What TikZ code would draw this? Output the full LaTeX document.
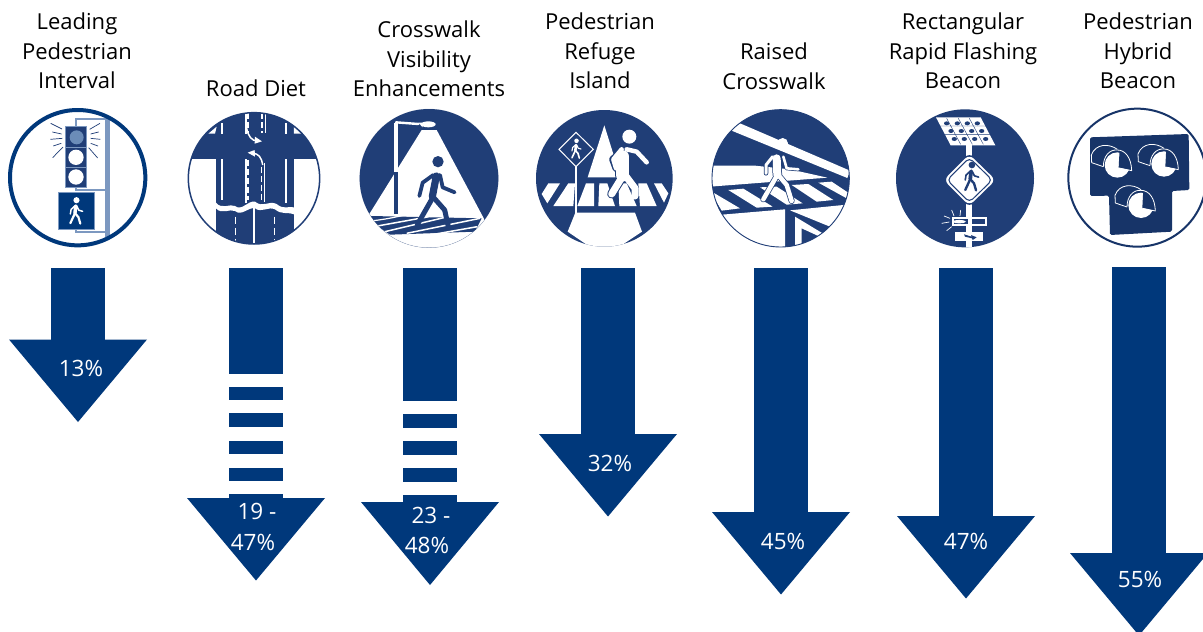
\documentclass[tikz,border=0pt]{standalone}
\usepackage{fontspec}
\setmainfont{Open Sans}
\definecolor{arrowblue}{HTML}{00387B}
\definecolor{iconblue}{HTML}{203E77}
\definecolor{hybridblue}{HTML}{173468}
\definecolor{poleblue}{HTML}{7C98C0}
\definecolor{lampblue}{HTML}{6B8CB8}
\tikzset{
  title/.style={align=center,font=\fontsize{22}{29.5}\selectfont,text=black,inner sep=0pt},
  pct/.style={font=\fontsize{22.5}{26}\selectfont,text=white,inner sep=0pt},
  limb/.style={line width=#1,line cap=round,line join=round},
  limb/.default=2.6pt
}
\newcommand{\downarrowshape}[3]{%
  \fill[arrowblue] ({#1-27},#2) rectangle ({#1+27},#3);
  \fill[arrowblue] ({#1-69},#3) -- ({#1+69},#3) -- (#1,{#3+82.5}) -- cycle;}
\newcommand{\stripe}[3]{\fill[arrowblue] ({#1-27},#2) rectangle ({#1+27},#3);}
% small walker: x, y (hip), scale, colour
\newcommand{\walkerfig}[4]{%
  \begin{scope}[shift={(#1,#2)},scale=#3]
    \fill[#4] (3,-36) circle[radius=8];
    \draw[#4,limb=#3*3pt] (1,-21) -- (-1,-2);
    \draw[#4,limb=#3*1.9pt] (-1,-2) -- (-13,24);
    \draw[#4,limb=#3*1.9pt] (-1,-2) -- (8,8) -- (13,25);
    \draw[#4,limb=#3*1.3pt] (0,-22) -- (-11,-12) -- (-13,0);
    \draw[#4,limb=#3*1.3pt] (3,-22) -- (9,-10) -- (19,-7);
  \end{scope}}
\newcommand{\hybridlamp}[2]{%
  \begin{scope}[shift={(#1,#2)}]
    \fill[white] (0,0) circle[radius=38];
    \fill[hybridblue] (4,8) -- (42,16) -- (42,-45) -- (7,-50) -- cycle;
    \draw[white,line width=.8pt,line join=round] (-42,5) -- (-77,-7) -- (-78,-30) .. controls (-65,-65) and (-25,-65) .. (0,-47);
    \draw[white,line width=.8pt,line join=round] (-42,5) .. controls (-42,-25) and (-25,-47) .. (0,-45) .. controls (25,-45) and (42,-20) .. (43,17) -- (5,9);
  \end{scope}}
\begin{document}
\begin{tikzpicture}[x=1pt,y=-1pt]
\useasboundingbox (0,0) rectangle (1203,632);
\clip (0,0) rectangle (1203,632);
\fill[white] (0,0) rectangle (1203,632);

% ---------- titles
\node[title] (t1) at (77,51) {Leading\\Pedestrian\\Interval};
\node[title] (t2) at (256,88) {Road Diet};
\node[title] (t3) at (429,59) {Crosswalk\\Visibility\\Enhancements};
\node[title] (t4) at (600,51) {Pedestrian\\Refuge\\Island};
\node[title] (t5) at (774,66) {Raised\\Crosswalk};
\node[title] (t6) at (963,51) {Rectangular\\Rapid Flashing\\Beacon};
\node[title] (t7) at (1138,51) {Pedestrian\\Hybrid\\Beacon};

% ---------- arrows
\downarrowshape{78}{268}{339.5}
\stripe{256}{268}{373.5}\stripe{256}{386.7}{400}\stripe{256}{413.3}{426.7}\stripe{256}{441}{454.3}\stripe{256}{467.7}{481}\stripe{256}{494}{498.5}
\fill[arrowblue] (187,498) -- (325,498) -- (256,580.5) -- cycle;
\stripe{430}{268}{401}\stripe{430}{414}{428}\stripe{430}{441}{455}\stripe{430}{468}{482}\stripe{430}{495}{502.5}
\fill[arrowblue] (361,502) -- (499,502) -- (430,585) -- cycle;
\downarrowshape{608}{268}{434}
\downarrowshape{781}{268}{512}
\downarrowshape{966}{268}{516}
\downarrowshape{1139}{267}{553}

\node[pct] (p1) at (81,368) {13\%};
\node[pct] (p2a) at (257,511) {19 -};
\node[pct] (p2b) at (253,542) {47\%};
\node[pct] (p3a) at (431,515) {23 -};
\node[pct] (p3b) at (427,545) {48\%};
\node[pct] (p4) at (610,463) {32\%};
\node[pct] (p5) at (783,541) {45\%};
\node[pct] (p6) at (966,541) {47\%};
\node[pct] (p7) at (1140,579) {55\%};

% ---------- icon 1: leading pedestrian interval
\begin{scope}[shift={(0,100)},scale=1/3]
  \draw[poleblue,line width=1.2pt] (228,80) -- (228,57) -- (320,57);
  \draw[poleblue,line width=1.2pt] (228,262) -- (228,270) -- (320,270);
  \draw[poleblue,line width=1.2pt] (228,388) -- (228,396) -- (320,396);
  \draw[poleblue,line width=5pt] (323,57) -- (323,412);
  \fill[iconblue,draw=poleblue,line width=.8pt] (197,80) rectangle (260,262);
  \draw[poleblue,line width=.4pt] (197,142) -- (260,142) (197,202) -- (260,202);
  \fill[lampblue] (230,112) circle[radius=21];
  \fill[white] (228,172) circle[radius=23];
  \fill[white] (228,231) circle[radius=23];
  \draw[iconblue,line width=.7pt] (152,70) -- (186,87) (157,96) -- (185,102) (151,118) -- (187,115) (160,138) -- (184,130) (158,173) -- (189,141);
  \draw[iconblue,line width=.7pt] (300,70) -- (269,88) (296,96) -- (272,102) (301,118) -- (272,115) (294,138) -- (272,130) (293,174) -- (266,143);
  \fill[arrowblue,draw=poleblue,line width=.9pt] (176,278) rectangle (284,388);
  \walkerfig{226}{342}{1.15}{white}
  \draw[arrowblue,line width=4pt] (233,233) circle[radius=203];
\end{scope}

% ---------- icon 2: road diet
\begin{scope}[shift={(0,100)},scale=1/3]
  \begin{scope}
    \clip (762,235) circle[radius=197];
    \fill[iconblue] (560,30) rectangle (965,440);
    \fill[white] (560,177) rectangle (648,440);
    \fill[white] (882,177) rectangle (965,440);
    \fill[white] (648,308) .. controls (665,330) and (690,310) .. (705,318) .. controls (725,335) and (745,300) .. (765,305) .. controls (790,325) and (805,300) .. (830,312) .. controls (850,330) and (865,318) .. (882,322) -- (882,343) .. controls (860,335) and (845,345) .. (825,328) .. controls (805,318) and (785,340) .. (765,325) .. controls (745,320) and (725,350) .. (705,333) .. controls (690,325) and (665,345) .. (648,325) -- cycle;
    \fill[white] (625,101) -- (650,80) -- (645,101) -- cycle;
    \fill[white] (882,80) -- (906,101) -- (882,101) -- cycle;
    \draw[white,line width=1.6pt] (666,70) -- (666,101) (858,70) -- (858,101);
    \draw[white,line width=1.6pt] (666,177) -- (666,300) (858,177) -- (858,308);
    \draw[white,line width=1.4pt] (738,40) -- (738,102) (796,40) -- (796,100);
    \draw[white,line width=1.4pt,dash pattern=on 6pt off 3pt] (744,40) -- (744,100) (786,40) -- (786,100);
    \draw[white,line width=1.4pt] (738,177) -- (738,310) (793,190) -- (793,305);
    \draw[white,line width=1.4pt,dash pattern=on 6pt off 3pt] (744,180) -- (744,300) (784,200) -- (784,300);
    \draw[white,line width=1.6pt] (762,325) -- (762,430);
    \draw[white,line width=1.6pt,dash pattern=on 7pt off 4pt] (706,350) -- (706,425) (823,350) -- (823,425);
    \draw[white,line width=1.5pt] (740,85) .. controls (745,110) and (755,122) .. (772,123);
    \fill[white] (765,110) -- (786,124) -- (764,131) -- cycle;
    \draw[white,line width=1.5pt] (788,195) .. controls (785,172) and (775,160) .. (758,160);
    \fill[white] (764,150) -- (743,158) -- (765,170) -- cycle;
  \end{scope}
  \draw[iconblue,line width=1.5pt] (762,235) circle[radius=197];
\end{scope}

% ---------- icon 3: crosswalk visibility enhancements
\begin{scope}[shift={(340,100)},scale=1/3]
  \fill[white] (267,235) circle[radius=208];
  \begin{scope}
    \clip (267,235) circle[radius=208];
    \fill[iconblue] (50,20) rectangle (490,450);
    \fill[white] (245,90) -- (290,90) -- (435,362) -- (415,396) -- (400,445) -- (120,445) -- (88,342) -- cycle;
    \fill[iconblue] (92,348) -- (425,355) -- (405,395) -- (150,404) -- (112,378) -- cycle;
    \draw[white,line width=1.2pt] (100,362) .. controls (160,355) and (190,345) .. (225,338);
    \draw[white,line width=1.5pt] (112,378) -- (295,345) (135,395) -- (345,345) (200,400) -- (420,355) (270,405) -- (412,380);
  \end{scope}
  \draw[white,line width=4.5pt] (168,215) -- (168,68);
  \draw[iconblue,line width=4.5pt] (168,342) -- (168,215);
  \draw[white,line width=2.4pt,line cap=round] (168,67) -- (235,72);
  \fill[white] (265,73) ellipse[x radius=22,y radius=9];
  \fill[white] (235,68) -- (248,68) -- (248,82) -- cycle;
  \fill[iconblue] (294,185) circle[radius=17];
  \draw[iconblue,limb=7.2pt] (289,228) -- (277,290);
  \draw[iconblue,limb=5pt] (277,295) -- (232,374);
  \draw[iconblue,limb=5pt] (283,295) -- (314,330) -- (325,380);
  \draw[iconblue,limb=3.8pt] (280,225) -- (248,248) -- (238,288);
  \draw[iconblue,limb=3.8pt] (300,225) -- (308,262) -- (344,277);
  \draw[iconblue,line width=.3pt,opacity=.3] (267,235) circle[radius=208];
\end{scope}

% ---------- icon 4: pedestrian refuge island
\begin{scope}[shift={(340,100)},scale=1/3]
  \fill[iconblue] (793,235) circle[radius=205];
  \begin{scope}
    \clip (793,235) circle[radius=205];
    \fill[white] (793,76) -- (842,232) -- (743,232) -- cycle;
    \fill[white] (625,250) -- (660,250) -- (622,310) -- (605,282) -- cycle;
    \fill[white] (685,250) -- (705,250) -- (700,318) -- (640,318) -- cycle;
    \fill[white] (738,250) -- (762,250) -- (762,318) -- (712,318) -- cycle;
    \fill[white] (778,250) -- (802,250) -- (825,318) -- (775,318) -- cycle;
    \fill[white] (835,250) -- (860,250) -- (890,318) -- (838,318) -- cycle;
    \fill[white] (895,250) -- (920,250) -- (950,318) -- (900,318) -- cycle;
    \fill[white] (942,250) -- (965,250) -- (985,280) -- (972,308) -- cycle;
    \fill[white] (706,338) -- (885,338) -- (906,395) -- (793,470) -- (683,395) -- cycle;
  \end{scope}
  \draw[white,line width=1.8pt] (709,195) -- (709,338);
  \fill[iconblue,draw=white,line width=1pt] (708,97) -- (760,148) -- (708,200) -- (657,148) -- cycle;
  \walkerfig{707}{153}{.85}{white}
  \fill[white] (868,110) circle[radius=21];
  \draw[iconblue,limb=15pt] (848,170) -- (848,225);
  \draw[iconblue,limb=9pt] (850,225) -- (815,282);
  \draw[iconblue,limb=7pt] (850,150) -- (818,178) -- (828,205);
  \draw[white,limb=13pt] (848,170) -- (848,225);
  \draw[white,limb=7pt] (850,225) -- (815,282);
  \draw[white,limb=7pt] (855,225) -- (885,265) -- (885,288);
  \draw[white,limb=4.5pt] (845,148) -- (820,178) -- (828,205);
  \draw[white,limb=4.5pt] (860,148) -- (890,155) -- (920,187);
\end{scope}

% ---------- icon 5: raised crosswalk
\begin{scope}[shift={(690,100)},scale=1/3]
  \fill[white] (272,235) circle[radius=206];
  \begin{scope}
    \clip (272,235) circle[radius=206];
    \fill[iconblue] (60,20) rectangle (490,450);
    \fill[white] (120,90) -- (150,70) -- (480,212) -- (472,234) -- cycle;
    \fill[white] (60,197) -- (195,197) -- (300,208) -- (412,233) -- (60,260) -- cycle;
    \fill[white] (115,270) -- (160,266) -- (248,320) -- (200,323) -- cycle;
    \fill[white] (210,262) -- (260,260) -- (338,310) -- (290,314) -- cycle;
    \fill[white] (305,255) -- (355,252) -- (430,300) -- (380,305) -- cycle;
    \fill[white] (385,248) -- (425,245) -- (485,285) -- (470,295) -- cycle;
    \fill[white] (60,272) -- (150,325) -- (95,332) -- cycle;
    \fill[white] (60,347) -- (285,328) -- (285,450) -- (60,450) -- cycle;
    \fill[white] (300,331) -- (490,312) -- (490,350) -- (420,380) -- cycle;
    \fill[white] (315,350) -- (398,400) -- (385,408) -- (335,385) -- (335,450) -- (315,450) -- cycle;
  \end{scope}
  \draw[iconblue,line width=.9pt] (272,235) circle[radius=206];
  \fill[white] (278,130) circle[radius=16];
  \draw[iconblue,limb=9.5pt] (260,175) -- (262,225);
  \draw[iconblue,limb=6pt] (262,225) -- (220,298);
  \draw[iconblue,limb=6pt] (265,225) -- (290,255) -- (305,303);
  \draw[iconblue,limb=4.5pt] (248,170) -- (228,195) -- (228,220);
  \draw[iconblue,limb=4pt] (280,170) -- (290,205) -- (325,208);
  \draw[white,limb=8pt] (260,175) -- (262,225);
  \draw[white,limb=4.5pt] (262,225) -- (220,298);
  \draw[white,limb=4.5pt] (265,225) -- (290,255) -- (305,303);
  \draw[white,limb=3pt] (248,170) -- (228,195) -- (228,220);
  \draw[white,limb=2.6pt] (280,170) -- (290,205) -- (325,208);
\end{scope}

% ---------- icon 6: rectangular rapid flashing beacon
\begin{scope}[shift={(690,100)},scale=1/3]
  \fill[iconblue] (825,235) circle[radius=207];
  \begin{scope}
    \clip (825,235) circle[radius=207];
    \draw[white,line width=6pt] (838,130) -- (838,445);
  \end{scope}
  \fill[white] (738,52) -- (872,52) -- (916,136) -- (782,136) -- cycle;
  \draw[iconblue,line width=.4pt] (770,55) -- (812,133) (805,55) -- (847,133) (838,55) -- (880,133) (750,78) -- (890,78) (763,104) -- (902,104);
  \foreach \x in {770,802,832,862} \fill[iconblue] (\x,70) ellipse[x radius=8,y radius=6];
  \foreach \x in {783,814,845,875} \fill[iconblue] (\x,93) ellipse[x radius=8,y radius=6];
  \foreach \x in {793,823,854,887} \fill[iconblue] (\x,117) ellipse[x radius=8,y radius=6];
  \fill[iconblue,rounded corners=6pt] (838,158) -- (922,240) -- (838,322) -- (756,240) -- cycle;
  \fill[white,rounded corners=6pt] (838,163) -- (917,240) -- (838,317) -- (761,240) -- cycle;
  \fill[iconblue,rounded corners=5pt] (838,171) -- (909,240) -- (838,309) -- (769,240) -- cycle;
  \fill[white,rounded corners=4pt] (838,176) -- (904,240) -- (838,304) -- (774,240) -- cycle;
  \walkerfig{842}{240}{1.25}{iconblue}
  \fill[white] (785,352) rectangle (892,377);
  \fill[iconblue] (845,358) rectangle (886,371);
  \fill[iconblue] (792,358) rectangle (833,372);
  \fill[white] (788,365) .. controls (790,358) and (825,358) .. (828,365) .. controls (825,372) and (790,372) .. (788,365) -- cycle;
  \draw[white,line width=.7pt] (785,330) -- (792,348) (812,330) -- (810,348) (762,348) -- (780,355) (755,370) -- (778,366) (770,392) -- (785,380) (830,350) -- (840,338) (828,372) -- (845,395);
  \fill[white] (795,395) rectangle (878,423);
  \fill[iconblue] (822,403) -- (845,410) -- (843,405) -- (860,412) -- (848,420) -- (846,415) -- (825,410) -- cycle;
\end{scope}

% ---------- icon 7: pedestrian hybrid beacon
\begin{scope}[shift={(1040,100)},scale=1/3]
  \draw[hybridblue,line width=2pt] (292,233) circle[radius=207];
  \fill[hybridblue,rounded corners=1.5pt] (150,112) -- (446,102) -- (448,270) -- (396,273) -- (396,395) -- (210,405) -- (207,287) -- (150,288) -- cycle;
  \hybridlamp{232}{195}
  \hybridlamp{372}{192}
  \hybridlamp{303}{316}
\end{scope}
\end{tikzpicture}
\end{document}
